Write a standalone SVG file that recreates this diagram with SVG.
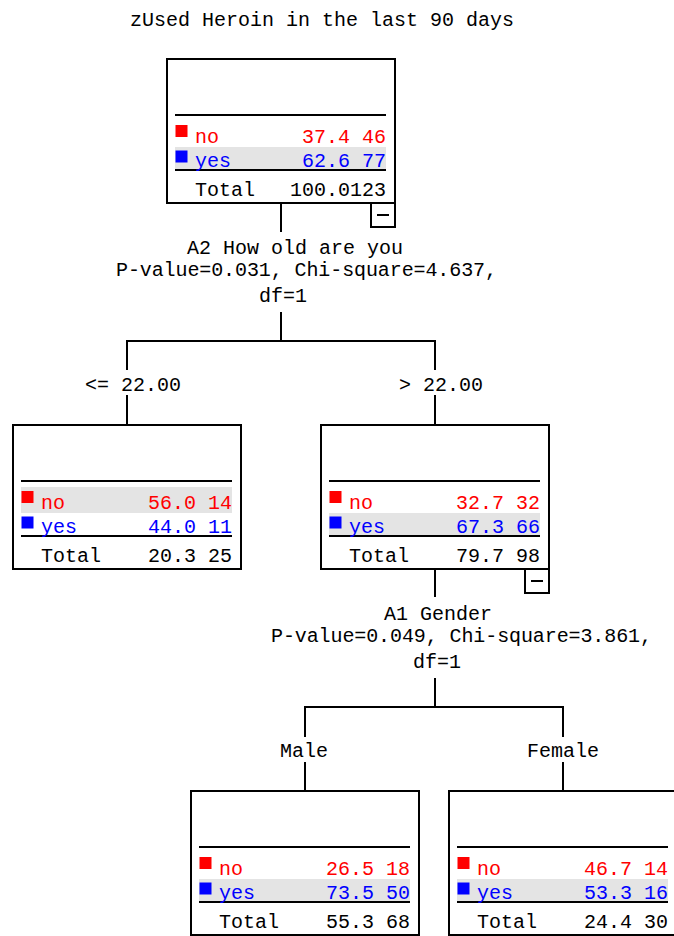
<svg xmlns="http://www.w3.org/2000/svg" width="674" height="936" viewBox="0 0 674 936">
<style>
text{font-family:"Liberation Mono","Courier New",monospace;font-size:20px;fill:#000}
.box{fill:#fff;stroke:#000;stroke-width:2}
.rule{stroke:#000;stroke-width:2}
.gray{fill:#e4e4e4}
.no{fill:#ff0000}
.yes{fill:#0000ff}
.end{text-anchor:end}
.con{fill:none;stroke:#000;stroke-width:2}
</style>
<rect width="674" height="936" fill="#fff"/>
<text x="130" y="26">zUsed Heroin in the last 90 days</text>

<g id="connectors">
<path class="con" d="M281 203V232M281 312V341M127 370V341H435V370M127 395V425M435 395V425"/>
<path class="con" d="M435 569V597M435 678V707M305 737V707H563V737M305 762V791M563 762V791"/>
</g>

<g id="split1">
<text x="187" y="254">A2 How old are you</text>
<text x="116" y="276" textLength="381" lengthAdjust="spacing">P-value=0.031, Chi-square=4.637,</text>
<text x="259" y="302">df=1</text>
<text x="85" y="391">&lt;= 22.00</text>
<text x="399" y="391">&gt; 22.00</text>
</g>
<g id="split2">
<text x="384" y="620">A1 Gender</text>
<text x="271" y="642" textLength="381" lengthAdjust="spacing">P-value=0.049, Chi-square=3.861,</text>
<text x="413" y="668">df=1</text>
<text x="280" y="757">Male</text>
<text x="527" y="757">Female</text>
</g>

<g id="node0" transform="translate(167,59)">
<rect class="box" x="0" y="0" width="228" height="144"/>
<rect class="gray" x="8" y="88" width="211" height="22"/>
<line class="rule" x1="8" y1="56" x2="219" y2="56"/>
<line class="rule" x1="8" y1="111" x2="219" y2="111"/>
<rect class="no" x="8.5" y="66" width="12" height="12"/>
<rect class="yes" x="8.5" y="91.5" width="12" height="12"/>
<text class="no" x="28" y="83.5">no</text>
<text class="no end" x="219" y="83.5">37.4 46</text>
<text class="yes" x="28" y="107.5">yes</text>
<text class="yes end" x="219" y="107.5">62.6 77</text>
<text x="28" y="137">Total</text>
<text class="end" x="219" y="137">100.0123</text>
<rect class="box" x="204" y="144" width="24" height="24"/>
<line class="rule" x1="210" y1="156" x2="222" y2="156"/>
</g>

<g id="node1" transform="translate(13,425)">
<rect class="box" x="0" y="0" width="228" height="144"/>
<rect class="gray" x="8" y="62" width="211" height="26"/>
<line class="rule" x1="8" y1="56" x2="219" y2="56"/>
<line class="rule" x1="8" y1="111" x2="219" y2="111"/>
<rect class="no" x="8.5" y="66" width="12" height="12"/>
<rect class="yes" x="8.5" y="91.5" width="12" height="12"/>
<text class="no" x="28" y="83.5">no</text>
<text class="no end" x="219" y="83.5">56.0 14</text>
<text class="yes" x="28" y="107.5">yes</text>
<text class="yes end" x="219" y="107.5">44.0 11</text>
<text x="28" y="137">Total</text>
<text class="end" x="219" y="137">20.3 25</text>
</g>

<g id="node2" transform="translate(321,425)">
<rect class="box" x="0" y="0" width="228" height="144"/>
<rect class="gray" x="8" y="88" width="211" height="22"/>
<line class="rule" x1="8" y1="56" x2="219" y2="56"/>
<line class="rule" x1="8" y1="111" x2="219" y2="111"/>
<rect class="no" x="8.5" y="66" width="12" height="12"/>
<rect class="yes" x="8.5" y="91.5" width="12" height="12"/>
<text class="no" x="28" y="83.5">no</text>
<text class="no end" x="219" y="83.5">32.7 32</text>
<text class="yes" x="28" y="107.5">yes</text>
<text class="yes end" x="219" y="107.5">67.3 66</text>
<text x="28" y="137">Total</text>
<text class="end" x="219" y="137">79.7 98</text>
<rect class="box" x="204" y="144" width="24" height="24"/>
<line class="rule" x1="210" y1="156" x2="222" y2="156"/>
</g>

<g id="node3" transform="translate(191,791)">
<rect class="box" x="0" y="0" width="228" height="144"/>
<rect class="gray" x="8" y="88" width="211" height="22"/>
<line class="rule" x1="8" y1="56" x2="219" y2="56"/>
<line class="rule" x1="8" y1="111" x2="219" y2="111"/>
<rect class="no" x="8.5" y="66" width="12" height="12"/>
<rect class="yes" x="8.5" y="91.5" width="12" height="12"/>
<text class="no" x="28" y="83.5">no</text>
<text class="no end" x="219" y="83.5">26.5 18</text>
<text class="yes" x="28" y="107.5">yes</text>
<text class="yes end" x="219" y="107.5">73.5 50</text>
<text x="28" y="137">Total</text>
<text class="end" x="219" y="137">55.3 68</text>
</g>

<g id="node4" transform="translate(449,791)">
<rect class="box" x="0" y="0" width="228" height="144"/>
<rect class="gray" x="8" y="88" width="211" height="22"/>
<line class="rule" x1="8" y1="56" x2="219" y2="56"/>
<line class="rule" x1="8" y1="111" x2="219" y2="111"/>
<rect class="no" x="8.5" y="66" width="12" height="12"/>
<rect class="yes" x="8.5" y="91.5" width="12" height="12"/>
<text class="no" x="28" y="83.5">no</text>
<text class="no end" x="219" y="83.5">46.7 14</text>
<text class="yes" x="28" y="107.5">yes</text>
<text class="yes end" x="219" y="107.5">53.3 16</text>
<text x="28" y="137">Total</text>
<text class="end" x="219" y="137">24.4 30</text>
</g>
</svg>
